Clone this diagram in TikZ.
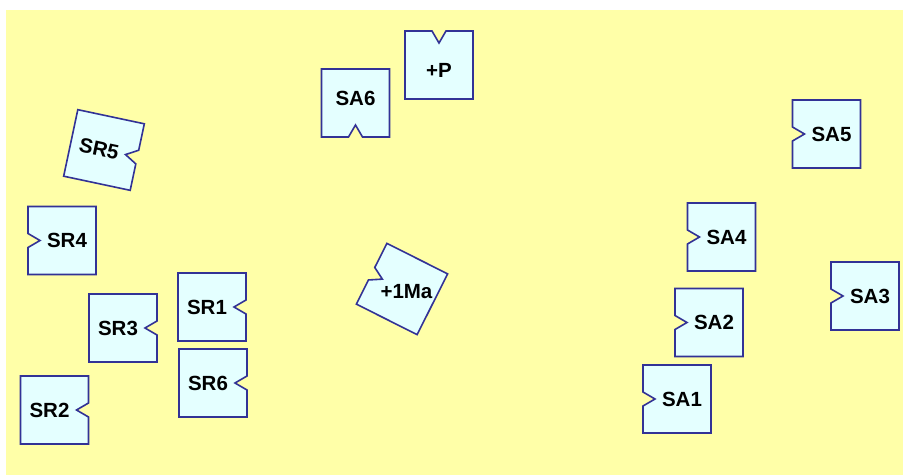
\documentclass[tikz,border=0pt]{standalone}
\usepackage{fontspec}
\setmainfont{Liberation Sans}
\usepackage{tikz}
\definecolor{bgyellow}{RGB}{255, 255, 168}
\definecolor{tilefill}{RGB}{228, 255, 255}
\definecolor{tileedge}{RGB}{50, 50, 150}
\tikzset{
    pics/tile/.style n args={3}{code={
        \draw[tileline, rotate=#1] (-34,-34) -- (34,-34) -- (34,34) -- (-34,34)
            -- (-34,7) -- (-22,0) -- (-34,-7) -- cycle;
        \node[tiletext, rotate=#2] (-txt) at ([rotate=#1]5,0) {#3};
    }}
}

\begin{document}
\begin{tikzpicture}[
    x=1pt, y=1pt,
    tileline/.style={draw=tileedge, fill=tilefill, line width=1.6pt, line join=miter},
    tiletext/.style={font=\bfseries\fontsize{20.5}{20.5}\selectfont, inner sep=0pt}
]
    % Background
    \useasboundingbox (0,0) rectangle (903,475);
    \fill[white] (0,0) rectangle (903,475);
    \fill[bgyellow] (6,0) rectangle (903,465);

    % Tiles - top middle
    \pic (plusp) at (439,410) {tile={-90}{0}{+P}};
    \pic (sa6) at (355.5,372) {tile={90}{0}{SA6}};

    % Tiles - left group
    \pic (sr5) at (104,325) {tile={168}{-12}{SR5}};
    \pic (sr4) at (62,234.5) {tile={0}{0}{SR4}};
    \pic (sr3) at (123,147) {tile={180}{0}{SR3}};
    \pic (sr1) at (212,168) {tile={180}{0}{SR1}};
    \pic (sr6) at (213,92) {tile={180}{0}{SR6}};
    \pic (sr2) at (54.5,65) {tile={180}{0}{SR2}};

    % Tile - centre
    \pic (ma) at (402,186) {tile={-26.7}{0}{+1Ma}};

    % Tiles - right group
    \pic (sa5) at (826.5,341) {tile={0}{0}{SA5}};
    \pic (sa4) at (721.5,238) {tile={0}{0}{SA4}};
    \pic (sa3) at (865,179) {tile={0}{0}{SA3}};
    \pic (sa2) at (709,152.5) {tile={0}{0}{SA2}};
    \pic (sa1) at (677,76) {tile={0}{0}{SA1}};
\end{tikzpicture}
\end{document}
